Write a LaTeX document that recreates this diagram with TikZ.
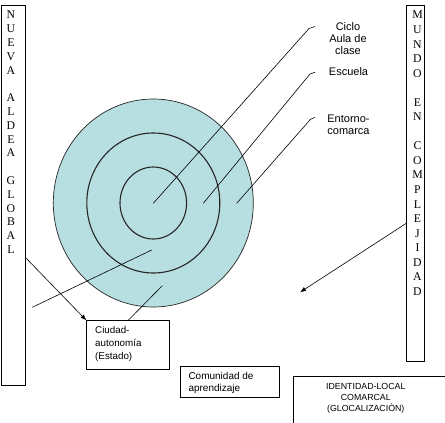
\documentclass[tikz,border=0pt]{standalone}
\usepackage{fontspec}
\setmainfont{Liberation Serif}
\newfontfamily\arialf{Liberation Sans}
\usetikzlibrary{arrows.meta}
\definecolor{ringfill}{RGB}{183,222,225}
\tikzset{
  thinline/.style={draw=black,line width=0.6pt},
  boxnode/.style={draw=black,line width=0.6pt,rectangle,inner sep=0pt,fill=white},
  vletters/.style={font=\fontsize{11.8}{13.8}\selectfont,align=center,inner sep=0pt,anchor=north},
  lbl/.style={font=\arialf\fontsize{11}{12}\selectfont,align=center,inner sep=0pt},
  arr/.style={thinline,-{Latex[length=6pt,width=4.5pt]}},
  ring/.style={draw=black!85,line width=1.1pt}
}
\begin{document}
\begin{tikzpicture}[x=1pt,y=-1pt]
\useasboundingbox (0,0) rectangle (445,423);
\clip (0,0) rectangle (445,423);
\fill[white] (0,0) rectangle (445,423);

% side boxes
\node[boxnode,minimum width=24pt,minimum height=380pt] (nag) at (13,195) {};
\node[vletters] (nagt) at (11,11) {N\\U\\E\\V\\A\\[13.8pt]A\\L\\D\\E\\A\\[13.8pt]G\\L\\O\\B\\A\\L};
\node[boxnode,minimum width=18pt,minimum height=356pt] (mec) at (415,183) {};
\node[vletters,font=\fontsize{11.8}{14.55}\selectfont] (mect) at (417.5,11) {M\\U\\N\\D\\O\\[14.55pt]E\\N\\[14.55pt]C\\O\\M\\P\\L\\E\\J\\I\\D\\A\\D};

% circles
\coordinate (ctr) at (153.3,203);
\draw[fill=ringfill,draw=black!85,line width=0.7pt] (ctr) ellipse [x radius=100pt,y radius=104pt];
\draw[ring] (ctr) ellipse [x radius=66.5pt,y radius=70pt];
\draw[ring] (ctr) ellipse [x radius=33.3pt,y radius=36pt];

% labels top right
\node[lbl] (ciclo) at (348,39) {Ciclo\\Aula de\\clase};
\node[lbl] (escuela) at (348.5,72) {Escuela};
\node[lbl] (entorno) at (348.5,124.5) {Entorno-\\comarca};

\coordinate (p1) at (153.3,203.3);
\coordinate (k1) at (309,28.5);
\coordinate (t1) at (315,26.5);
\coordinate (p2) at (203.3,203.3);
\coordinate (k2) at (310,74);
\coordinate (t2) at (315,72.3);
\coordinate (p3) at (236.7,203.3);
\coordinate (k3) at (310.5,119.3);
\coordinate (t3) at (315,117.3);
\draw[thinline] (p1) -- (k1) -- (t1);
\draw[thinline] (p2) -- (k2) -- (t2);
\draw[thinline] (p3) -- (k3) -- (t3);

% bottom boxes
\node[boxnode,minimum width=82.3pt,minimum height=48.6pt] (ciu) at (127.85,345) {};
\node[font=\arialf\fontsize{9.8}{12.7}\selectfont,align=left,inner sep=0pt,anchor=west] (ciut) at (95,343.8) {Ciudad-\\autonomía\\(Estado)};

\node[boxnode,minimum width=99.3pt,minimum height=31pt] (com) at (229.65,381.5) {};
\node[font=\arialf\fontsize{10}{12}\selectfont,align=left,inner sep=0pt,anchor=west] (comt) at (188.3,382.5) {Comunidad de\\aprendizaje};

\node[boxnode,minimum width=170pt,minimum height=80pt,anchor=north west] (idb) at (292.7,376) {};
\node[font=\arialf\fontsize{8.8}{11}\selectfont,align=center,inner sep=0pt] (idt) at (365.8,398.5) {IDENTIDAD-LOCAL\\COMARCAL\\(GLOCALIZACIÒN)};

% connectors
\coordinate (q1) at (151.7,250);
\coordinate (q2) at (32.3,307.3);
\draw[thinline] (q1) -- (q2);
\coordinate (q3) at (162.3,285.7);
\draw[thinline] (q3) -- (127.7,320.7 -| ciu.north);
\coordinate (la) at (25,257);
\draw[arr] (la) -- (ciu.north west);
\coordinate (ra) at (406,223.5);
\coordinate (rt) at (300,292.3);
\draw[arr] (ra) -- (rt);
\end{tikzpicture}
\end{document}
